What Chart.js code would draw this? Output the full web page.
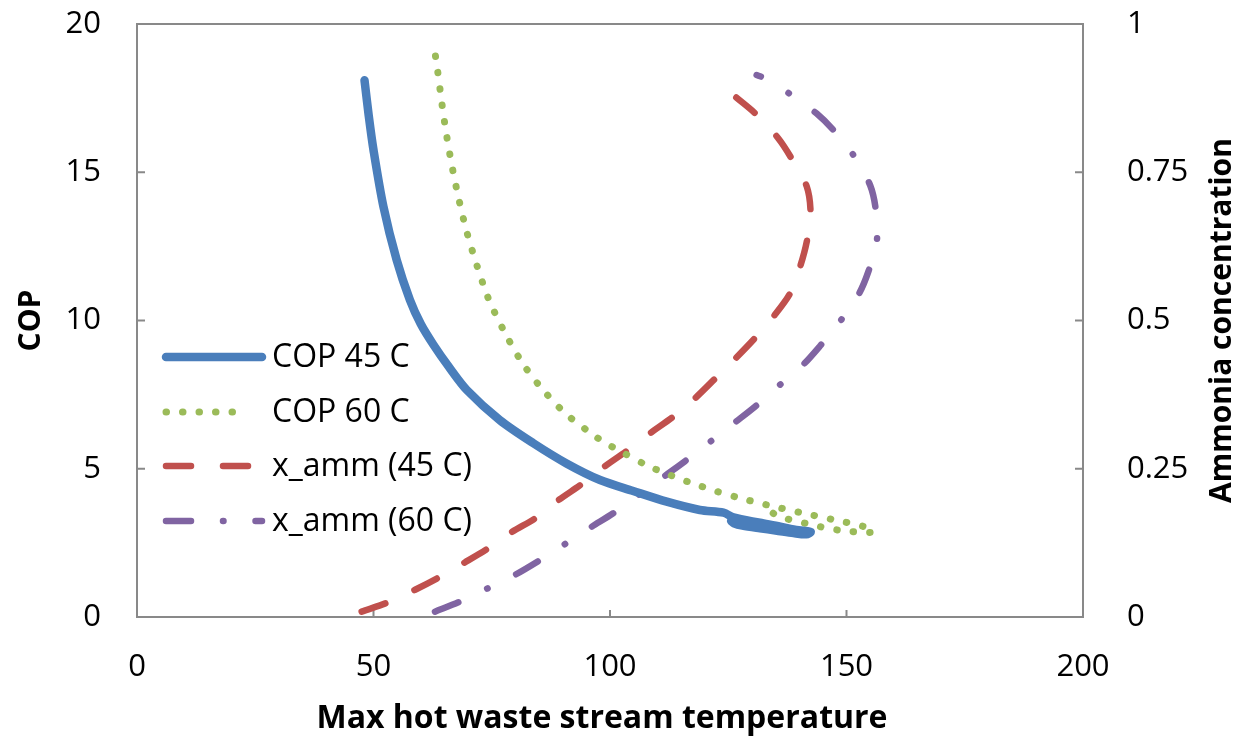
<!DOCTYPE html>
<html>
<head>
<meta charset="utf-8">
<script src="https://cdn.jsdelivr.net/npm/chart.js@4"></script>
<style>
  body { margin: 0; background: #fff; }
  #wrap { width: 1239px; height: 741px; }
</style>
</head>
<body>
<div id="wrap"><canvas id="myChart" width="1239" height="741"></canvas></div>
<script>
// values: temperature (x) and COP / ammonia fraction (y)
let series_names = ['COP 45 C', 'COP 60 C', 'x_amm (45 C)', 'x_amm (60 C)'];

let cop45_t = [48.1, 49.0, 50.0, 52.1, 54.9, 57.7, 60.0, 62.6, 66.0, 69.7, 76.7, 83.8, 90.8, 97.9, 104.9, 112.0, 119.0, 124.0,
               126.1, 131.7, 136.0, 138.8, 142.4, 141.5, 138.8, 135.0, 131.7, 128.0, 126.2, 125.6];
let cop45_v = [18.1, 16.9, 15.75, 13.84, 12.04, 10.69, 9.88, 9.2, 8.42, 7.66, 6.64, 5.86, 5.18, 4.62, 4.25, 3.89, 3.61, 3.52,
               3.36, 3.18, 3.05, 2.95, 2.87, 2.79, 2.83, 2.92, 2.99, 3.08, 3.16, 3.24];

let cop60_t = [63.1, 63.6, 64.5, 65.5, 66.7, 68.1, 69.7, 71.7, 73.9, 75.2, 78.3, 81.8, 86.0, 90.7, 96.2, 99.1, 102.0,
               108.0, 114.4, 117.6, 122.5, 127.5, 134.2, 140.9, 147.6, 154.3, 155.7, 148.8, 142.1, 135.5, 132.8];
let cop60_v = [18.92, 18.37, 17.27, 16.2, 15.12, 14.05, 13.0, 11.94, 10.9, 10.41, 9.43, 8.49, 7.63, 6.85, 6.17, 5.86, 5.61,
               5.10, 4.68, 4.5, 4.24, 4.01, 3.74, 3.50, 3.27, 3.02, 2.86, 2.92, 3.13, 3.41, 3.70];

let amm45_t = [47.5, 53.5, 58.8, 64.1, 69.3, 74.3, 79.2, 84.5, 89.1, 94.0, 98.9, 103.9, 108.5, 113.4, 117.6, 122.6,
               126.4, 130.5, 134.5, 138.1, 140.2, 141.6, 142.4, 141.6, 138.4, 135.6, 131.0, 126.7];
let amm45_v = [0.009, 0.026, 0.046, 0.068, 0.092, 0.116, 0.143, 0.168, 0.197, 0.224, 0.254, 0.282, 0.31, 0.338, 0.366, 0.405,
               0.435, 0.469, 0.506, 0.546, 0.591, 0.633, 0.68, 0.726, 0.773, 0.807, 0.847, 0.876];

let amm60_t = [63.0, 68.3, 74.1, 79.9, 84.8, 90.5, 96.1, 100.7, 106.1, 111.6, 115.9, 121.1, 126.4, 130.7, 135.7, 140.9,
               144.4, 148.6, 152.5, 154.6, 156.4, 156.2, 155.0, 151.8, 147.6, 143.7, 138.5, 134.5, 131.0];
let amm60_v = [0.009, 0.026, 0.048, 0.071, 0.094, 0.123, 0.152, 0.175, 0.206, 0.238, 0.263, 0.295, 0.328, 0.355, 0.39, 0.426,
               0.457, 0.498, 0.543, 0.582, 0.633, 0.686, 0.728, 0.775, 0.818, 0.849, 0.879, 0.903, 0.914];

let x_ticks = [0, 50, 100, 150, 200];
let cop_ticks = [0, 5, 10, 15, 20];
let amm_ticks = [0, 0.25, 0.5, 0.75, 1];
let amm_labels = ['0', '0.25', '0.5', '0.75', '1'];

let axis_color = '#898989';
let legend_rows = [357, 412, 466, 521];

function pairs(xs, ys)
{
    let out = [];
    for (let i = 0; i < xs.length; i++) {
        out.push({x: xs[i], y: ys[i]});
    }
    return out;
}

function fixedTicks(values)
{
    return function(scale){
        scale.ticks = values.map(v => ({value: v}));
    };
}

function noOverhang(scale)
{
    scale.paddingTop = 0;
    scale.paddingBottom = 0;
    scale.paddingLeft = 0;
    scale.paddingRight = 0;
}

const frame_plugin = {
    id: 'frame',
    beforeDatasetsDraw(chart) {
        const ctx = chart.ctx;
        const a = chart.chartArea;
        ctx.save();
        ctx.strokeStyle = axis_color;
        ctx.lineWidth = 2;
        ctx.strokeRect(a.left, a.top, a.right - a.left, a.bottom - a.top);
        ctx.beginPath();
        // tick marks point inward
        chart.scales.x.ticks.forEach(t => {
            let px = chart.scales.x.getPixelForValue(t.value);
            ctx.moveTo(px, a.bottom);
            ctx.lineTo(px, a.bottom - 7);
        });
        chart.scales.y.ticks.forEach(t => {
            let py = chart.scales.y.getPixelForValue(t.value);
            ctx.moveTo(a.left, py);
            ctx.lineTo(a.left + 8, py);
        });
        chart.scales.y2.ticks.forEach(t => {
            let py = chart.scales.y2.getPixelForValue(t.value);
            ctx.moveTo(a.right, py);
            ctx.lineTo(a.right - 8, py);
        });
        ctx.stroke();
        ctx.restore();
    },
    afterDraw(chart) {
        const ctx = chart.ctx;
        const a = chart.chartArea;
        const midY = (a.top + a.bottom) / 2;
        ctx.save();
        ctx.fillStyle = '#000';
        ctx.textAlign = 'center';
        ctx.textBaseline = 'middle';
        ctx.font = "bold 32px 'Open Sans', sans-serif";
        ctx.fillText('Max hot waste stream temperature', 602, 719);

        ctx.font = "bold 30px 'Open Sans', sans-serif";
        ctx.save();
        ctx.translate(31, midY);
        ctx.rotate(-Math.PI / 2);
        ctx.fillText('COP', 0, 0);
        ctx.restore();

        ctx.save();
        ctx.translate(1222, midY);
        ctx.rotate(-Math.PI / 2);
        ctx.fillText('Ammonia concentration', 0, 0);
        ctx.restore();

        // legend inside the plot
        ctx.font = "32px 'Open Sans', sans-serif";
        ctx.textAlign = 'left';
        chart.data.datasets.forEach((ds, i) => {
            let y = legend_rows[i];
            ctx.save();
            ctx.strokeStyle = ds.borderColor;
            ctx.lineWidth = ds.borderWidth;
            ctx.lineCap = 'round';
            ctx.setLineDash(ds.borderDash || []);
            ctx.beginPath();
            ctx.moveTo(166, y);
            ctx.lineTo(i == 1 ? 248 : 262, y);
            ctx.stroke();
            ctx.restore();
            ctx.fillText(ds.label, 272, y + 1);
        });
        ctx.restore();
    }
};

Chart.defaults.font.family = "'Open Sans', sans-serif";
Chart.defaults.font.size = 31;
Chart.defaults.color = '#000';

let config = {
    type: 'scatter',
    data: {
        datasets: [
            {
                label: series_names[0],
                data: pairs(cop45_t, cop45_v),
                yAxisID: 'y',
                borderColor: '#4a7ebb',
                borderWidth: 8.5,
                tension: 0.3
            },
            {
                label: series_names[1],
                data: pairs(cop60_t, cop60_v),
                yAxisID: 'y',
                borderColor: '#9bbb59',
                borderWidth: 7,
                borderDash: [0.5, 16],
                tension: 0.3
            },
            {
                label: series_names[2],
                data: pairs(amm45_t, amm45_v),
                yAxisID: 'y2',
                borderColor: '#c0504d',
                borderWidth: 6.5,
                borderDash: [25, 32],
                tension: 0.3
            },
            {
                label: series_names[3],
                data: pairs(amm60_t, amm60_v),
                yAxisID: 'y2',
                borderColor: '#8064a2',
                borderWidth: 6.5,
                borderDash: [25, 32, 0.5, 32],
                tension: 0.3
            }
        ]
    },
    options: {
        responsive: false,
        animation: false,
        devicePixelRatio: 1,
        layout: { padding: { top: 24, left: 0, right: 0, bottom: 0 } },
        datasets: {
            scatter: {
                showLine: true,
                pointRadius: 0,
                borderCapStyle: 'round',
                borderJoinStyle: 'round',
                clip: false
            }
        },
        plugins: {
            legend: { display: false },
            tooltip: { enabled: false }
        },
        scales: {
            x: {
                type: 'linear',
                position: 'bottom',
                min: 0,
                max: 200,
                grid: { display: false },
                border: { display: false },
                ticks: { padding: 24, maxRotation: 0 },
                afterBuildTicks: fixedTicks(x_ticks),
                afterFit(scale) { noOverhang(scale); scale.height = 124; }
            },
            y: {
                type: 'linear',
                position: 'left',
                min: 0,
                max: 20,
                grid: { display: false },
                border: { display: false },
                ticks: { padding: 28 },
                afterBuildTicks: fixedTicks(cop_ticks),
                afterFit(scale) { noOverhang(scale); scale.width = 137; }
            },
            y2: {
                type: 'linear',
                position: 'right',
                min: 0,
                max: 1,
                grid: { display: false },
                border: { display: false },
                ticks: {
                    padding: 36,
                    callback(value, index) { return amm_labels[index]; }
                },
                afterBuildTicks: fixedTicks(amm_ticks),
                afterFit(scale) { noOverhang(scale); scale.width = 156; }
            }
        }
    },
    plugins: [frame_plugin]
};

const ctx = document.getElementById('myChart');
window.chart = new Chart(ctx, config);
</script>
</body>
</html>
